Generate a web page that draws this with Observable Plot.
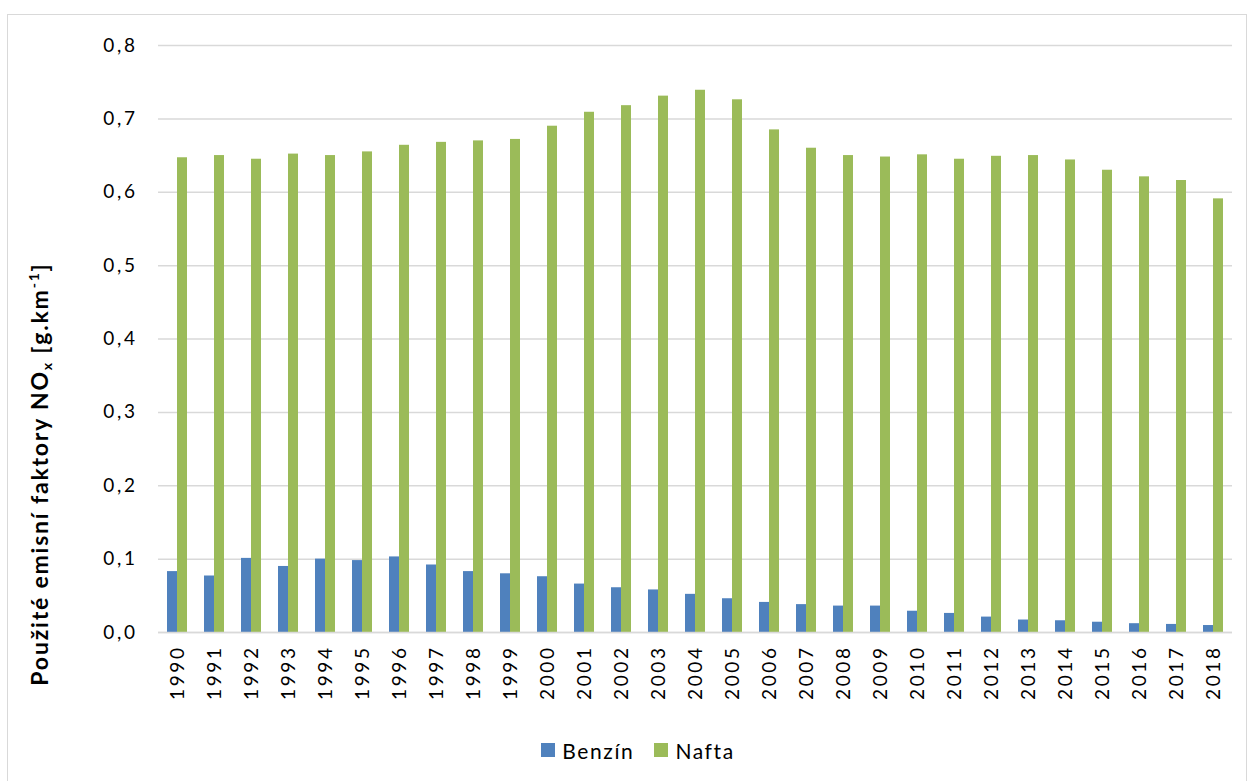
<!DOCTYPE html>
<html>
<head>
<meta charset="utf-8">
<script src="https://cdn.jsdelivr.net/npm/d3@7"></script>
<script src="https://cdn.jsdelivr.net/npm/@observablehq/plot@0.6"></script>
<style>
  html, body { margin: 0; padding: 0; background: #fff; }
  #wrap { position: relative; width: 1250px; height: 781px; overflow: hidden; font-family: Lato, "Open Sans", sans-serif; }
  #frame { position: absolute; left: 7px; top: 14px; width: 1240px; height: 780px; border: 1px solid #d9d9d9; box-sizing: border-box; }
  #chart { position: absolute; left: 0; top: 0; }
  #ytitle { position: absolute; left: 40px; top: 474px; transform: translate(-50%, -50%) rotate(-90deg); white-space: nowrap;
            font-weight: bold; font-size: 23px; letter-spacing: 1.8px; color: #000; }
  #ytitle sub { font-size: 14px; vertical-align: -4px; }
  #ytitle sup { font-size: 14px; vertical-align: 9px; }
  #legend { position: absolute; top: 736px; left: 0; width: 1250px; text-align: center; font-size: 21px; letter-spacing: 1.6px; color: #000; padding-left: 26px; box-sizing: border-box; }
  .li { display: inline-flex; align-items: center; margin: 0 10px; }
  .sw { width: 14px; height: 14px; display: inline-block; margin-right: 7px; }
</style>
</head>
<body>
<div id="wrap">
  <div id="frame"></div>
  <div id="chart"></div>
  <div id="ytitle">Použité emisní faktory NO<sub>x</sub> [g.km<sup>-1</sup>]</div>
  <div id="legend"></div>
</div>
<script>
const years = ["1990","1991","1992","1993","1994","1995","1996","1997","1998","1999","2000","2001","2002","2003","2004","2005","2006","2007","2008","2009","2010","2011","2012","2013","2014","2015","2016","2017","2018"];
const benzin = [0.083,0.077,0.101,0.090,0.100,0.098,0.103,0.092,0.083,0.080,0.076,0.066,0.061,0.058,0.052,0.046,0.041,0.038,0.036,0.036,0.029,0.026,0.021,0.017,0.016,0.014,0.012,0.011,0.0095];
const nafta = [0.647,0.650,0.645,0.652,0.650,0.655,0.664,0.668,0.670,0.672,0.690,0.709,0.718,0.731,0.739,0.726,0.685,0.660,0.650,0.648,0.651,0.645,0.649,0.650,0.644,0.630,0.621,0.616,0.591];
const seriesNames = ["Benzín","Nafta"];
const seriesColors = ["#4F81BD","#9BBB59"];
const yTicks = [0,0.1,0.2,0.3,0.4,0.5,0.6,0.7,0.8];

const rows = years.map((y, i) => ({year: y, benzin: benzin[i], nafta: nafta[i]}));

const W = 1250, mL = 158, mR = 18;
const padIn = 0.46;
const step = (W - mL - mR) / years.length;
const half = step * (1 - padIn) / 2;

const chart = Plot.plot({
  width: W,
  height: 712,
  marginLeft: mL,
  marginRight: mR,
  marginTop: 45,
  marginBottom: 80,
  style: { fontFamily: "Lato, 'Open Sans', sans-serif", fontSize: "19px", letterSpacing: "2.6px", color: "#000", background: "transparent" },
  x: { domain: years, paddingInner: padIn, paddingOuter: padIn / 2, label: null, tickSize: 0, tickRotate: -90, tickPadding: 13 },
  y: { domain: [0, 0.8], ticks: yTicks, tickFormat: d => d.toFixed(1).replace(".", ","), label: null, tickSize: 0, tickPadding: 21 },
  marks: [
    Plot.ruleY(yTicks, { stroke: "#d9d9d9", strokeWidth: 1.5 }),
    Plot.barY(rows, { x: "year", y: "benzin", fill: seriesColors[0], insetRight: half }),
    Plot.barY(rows, { x: "year", y: "nafta", fill: seriesColors[1], insetLeft: half }),
    Plot.ruleY([0], { stroke: "#d9d9d9", strokeWidth: 1.5 })
  ]
});
document.getElementById("chart").appendChild(chart);

const leg = document.getElementById("legend");
seriesNames.forEach((n, i) => {
  const s = document.createElement("span");
  s.className = "li";
  s.innerHTML = `<span class="sw" style="background:${seriesColors[i]}"></span>${n}`;
  leg.appendChild(s);
});
</script>
</body>
</html>
